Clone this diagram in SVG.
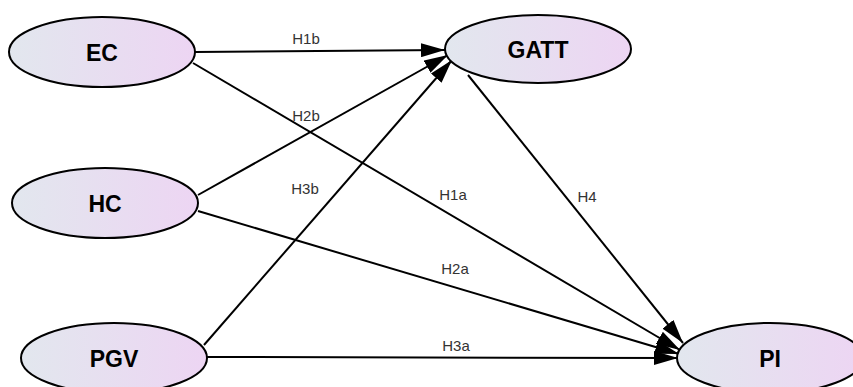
<svg xmlns="http://www.w3.org/2000/svg" width="853" height="387" viewBox="0 0 853 387">
<defs>
<linearGradient id="g" x1="0" y1="0" x2="1" y2="0">
<stop offset="0" stop-color="#e2e7ee"/>
<stop offset="1" stop-color="#edd5f3"/>
</linearGradient>
<marker id="a" viewBox="0 0 24 14" refX="24" refY="7" markerWidth="24" markerHeight="14" markerUnits="userSpaceOnUse" orient="auto">
<path d="M0,0 L24,7 L0,14 Z" fill="#000"/>
</marker>
<style>
.n{fill:url(#g);stroke:#000;stroke-width:2}
.t{font-family:"Liberation Sans",Arial,sans-serif;font-weight:bold;font-size:23px;text-anchor:middle;fill:#000}
.l{font-family:"Liberation Sans",Arial,sans-serif;font-size:15px;text-anchor:middle;fill:#333}
.e{stroke:#000;stroke-width:2;fill:none;marker-end:url(#a)}
</style>
</defs>
<rect width="853" height="387" fill="#fff"/>
<g id="connectors">
<line class="e" x1="195" y1="52" x2="445" y2="50"/>
<line class="e" x1="193" y1="63" x2="680" y2="350"/>
<line class="e" x1="198" y1="195" x2="448" y2="55"/>
<line class="e" x1="198" y1="211" x2="679" y2="354"/>
<line class="e" x1="204" y1="345" x2="452" y2="60"/>
<line class="e" x1="207" y1="357" x2="678" y2="358"/>
<line class="e" x1="468" y1="75" x2="683" y2="343"/>
<text class="l" x="306" y="44">H1b</text>
<text class="l" x="453" y="200">H1a</text>
<text class="l" x="306" y="121">H2b</text>
<text class="l" x="455" y="274">H2a</text>
<text class="l" x="305" y="194">H3b</text>
<text class="l" x="456" y="351">H3a</text>
<text class="l" x="587" y="202">H4</text>
</g>
<g id="EC"><ellipse class="n" cx="102" cy="52" rx="93" ry="35"/><text class="t" x="102" y="61">EC</text></g>
<g id="GATT"><ellipse class="n" cx="538" cy="49" rx="93" ry="34"/><text class="t" x="538" y="58">GATT</text></g>
<g id="HC"><ellipse class="n" cx="105" cy="203" rx="93" ry="35"/><text class="t" x="105" y="212">HC</text></g>
<g id="PGV"><ellipse class="n" cx="114" cy="358" rx="93" ry="35"/><text class="t" x="114" y="367">PGV</text></g>
<g id="PI"><ellipse class="n" cx="770" cy="358" rx="93" ry="35"/><text class="t" x="770" y="367">PI</text></g>
</svg>
